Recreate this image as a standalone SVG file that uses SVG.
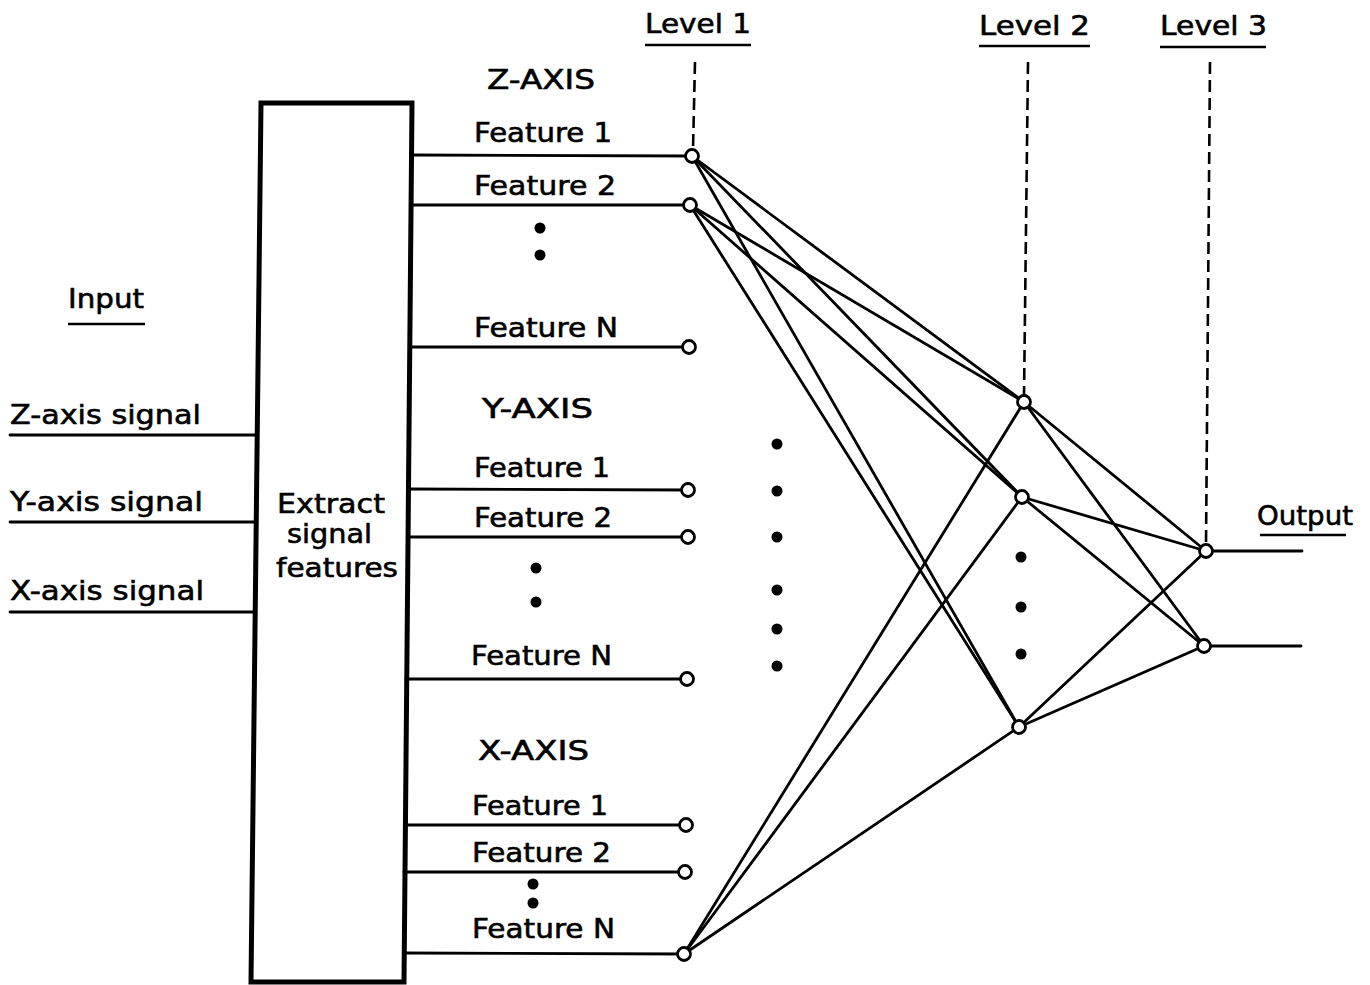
<svg xmlns="http://www.w3.org/2000/svg" width="1370" height="985" viewBox="0 0 1370 985">
<style>
text{font-family:"DejaVu Sans","Liberation Sans",sans-serif;font-size:27px;fill:#000;stroke:#000;stroke-width:0.6}
.ln{stroke:#000;stroke-width:2.8;fill:none;stroke-linecap:round}
.ul{stroke:#000;stroke-width:2.6;fill:none}
.dash{stroke:#000;stroke-width:2.6;fill:none;stroke-dasharray:12 6}
.nd{fill:#fff;stroke:#000;stroke-width:2.8}
.dot{fill:#000}
</style>
<rect width="1370" height="985" fill="#fff"/>

<g id="headers">
<text x="645" y="33" textLength="106" lengthAdjust="spacingAndGlyphs">Level 1</text>
<line class="ul" x1="645" y1="45" x2="751" y2="45"/>
<text x="979" y="35" textLength="111" lengthAdjust="spacingAndGlyphs">Level 2</text>
<line class="ul" x1="979" y1="46" x2="1090" y2="46"/>
<text x="1160" y="35" textLength="107" lengthAdjust="spacingAndGlyphs">Level 3</text>
<line class="ul" x1="1160" y1="47" x2="1266" y2="47"/>
<text x="68" y="308" textLength="76" lengthAdjust="spacingAndGlyphs">Input</text>
<line class="ul" x1="68" y1="324" x2="145" y2="324"/>
<text x="1257" y="525" textLength="96" lengthAdjust="spacingAndGlyphs">Output</text>
<line class="ul" x1="1260" y1="535" x2="1346" y2="535"/>
</g>

<g id="level-guides">
<line class="dash" x1="695" y1="62" x2="693" y2="150"/>
<line class="dash" x1="1028" y1="62" x2="1024" y2="396"/>
<line class="dash" x1="1210" y1="62" x2="1206" y2="545"/>
</g>

<g id="inputs">
<text x="10" y="424" textLength="191" lengthAdjust="spacingAndGlyphs">Z-axis signal</text>
<line class="ln" x1="10" y1="435" x2="256" y2="435"/>
<text x="10" y="511" textLength="193" lengthAdjust="spacingAndGlyphs">Y-axis signal</text>
<line class="ln" x1="10" y1="522" x2="255" y2="522"/>
<text x="10" y="600" textLength="194" lengthAdjust="spacingAndGlyphs">X-axis signal</text>
<line class="ln" x1="10" y1="612" x2="254" y2="612"/>
</g>

<g id="extract-box">
<path d="M261,103 L412,103 L404,982 L251,982 Z" fill="#fff" stroke="#000" stroke-width="5"/>
<text x="277" y="513" textLength="108" lengthAdjust="spacingAndGlyphs">Extract</text>
<text x="287" y="543" textLength="85" lengthAdjust="spacingAndGlyphs">signal</text>
<text x="276" y="577" textLength="122" lengthAdjust="spacingAndGlyphs">features</text>
</g>

<g id="feature-labels">
<text x="487" y="89" textLength="108" lengthAdjust="spacingAndGlyphs">Z-AXIS</text>
<text x="474" y="142" textLength="138" lengthAdjust="spacingAndGlyphs">Feature 1</text>
<text x="474" y="195" textLength="142" lengthAdjust="spacingAndGlyphs">Feature 2</text>
<text x="474" y="337" textLength="144" lengthAdjust="spacingAndGlyphs">Feature N</text>
<text x="482" y="418" textLength="111" lengthAdjust="spacingAndGlyphs">Y-AXIS</text>
<text x="474" y="477" textLength="136" lengthAdjust="spacingAndGlyphs">Feature 1</text>
<text x="474" y="527" textLength="138" lengthAdjust="spacingAndGlyphs">Feature 2</text>
<text x="471" y="665" textLength="141" lengthAdjust="spacingAndGlyphs">Feature N</text>
<text x="478" y="760" textLength="111" lengthAdjust="spacingAndGlyphs">X-AXIS</text>
<text x="472" y="815" textLength="136" lengthAdjust="spacingAndGlyphs">Feature 1</text>
<text x="472" y="862" textLength="139" lengthAdjust="spacingAndGlyphs">Feature 2</text>
<text x="472" y="938" textLength="143" lengthAdjust="spacingAndGlyphs">Feature N</text>
<circle class="dot" cx="540" cy="228" r="5.5"/>
<circle class="dot" cx="540" cy="255" r="5.5"/>
<circle class="dot" cx="536" cy="568" r="5.5"/>
<circle class="dot" cx="536" cy="602" r="5.5"/>
<circle class="dot" cx="533" cy="884" r="5.5"/>
<circle class="dot" cx="533" cy="903" r="5.5"/>
<circle class="dot" cx="777" cy="444" r="5.5"/>
<circle class="dot" cx="777" cy="491" r="5.5"/>
<circle class="dot" cx="777" cy="537" r="5.5"/>
<circle class="dot" cx="777" cy="590" r="5.5"/>
<circle class="dot" cx="777" cy="629" r="5.5"/>
<circle class="dot" cx="777" cy="666" r="5.5"/>
<circle class="dot" cx="1021" cy="557" r="5.5"/>
<circle class="dot" cx="1021" cy="607" r="5.5"/>
<circle class="dot" cx="1021" cy="654" r="5.5"/>
</g>

<g id="connectors">
<line class="ln" x1="412" y1="155" x2="692" y2="156"/>
<line class="ln" x1="412" y1="205" x2="690" y2="205"/>
<line class="ln" x1="410" y1="347" x2="689" y2="347"/>
<line class="ln" x1="409" y1="489" x2="688" y2="490"/>
<line class="ln" x1="408" y1="537" x2="688" y2="537"/>
<line class="ln" x1="406" y1="679" x2="687" y2="679"/>
<line class="ln" x1="405" y1="825" x2="686" y2="825"/>
<line class="ln" x1="404" y1="872" x2="685" y2="872"/>
<line class="ln" x1="404" y1="953" x2="684" y2="954"/>
<line class="ln" x1="692" y1="156" x2="1024" y2="402"/>
<line class="ln" x1="692" y1="156" x2="1022" y2="497"/>
<line class="ln" x1="692" y1="156" x2="1019" y2="727"/>
<line class="ln" x1="690" y1="205" x2="1024" y2="402"/>
<line class="ln" x1="690" y1="205" x2="1022" y2="497"/>
<line class="ln" x1="690" y1="205" x2="1019" y2="727"/>
<line class="ln" x1="684" y1="954" x2="1024" y2="402"/>
<line class="ln" x1="684" y1="954" x2="1022" y2="497"/>
<line class="ln" x1="684" y1="954" x2="1019" y2="727"/>
<line class="ln" x1="1024" y1="402" x2="1206" y2="551"/>
<line class="ln" x1="1024" y1="402" x2="1204" y2="646"/>
<line class="ln" x1="1022" y1="497" x2="1206" y2="551"/>
<line class="ln" x1="1022" y1="497" x2="1204" y2="646"/>
<line class="ln" x1="1019" y1="727" x2="1206" y2="551"/>
<line class="ln" x1="1019" y1="727" x2="1204" y2="646"/>
<line class="ln" x1="1206" y1="551" x2="1302" y2="551"/>
<line class="ln" x1="1204" y1="646" x2="1301" y2="646"/>
</g>

<g id="node-z1"><circle class="nd" cx="692" cy="156" r="6.5"/></g>
<g id="node-z2"><circle class="nd" cx="690" cy="205" r="6.5"/></g>
<g id="node-zn"><circle class="nd" cx="689" cy="347" r="6.5"/></g>
<g id="node-y1"><circle class="nd" cx="688" cy="490" r="6.5"/></g>
<g id="node-y2"><circle class="nd" cx="688" cy="537" r="6.5"/></g>
<g id="node-yn"><circle class="nd" cx="687" cy="679" r="6.5"/></g>
<g id="node-x1"><circle class="nd" cx="686" cy="825" r="6.5"/></g>
<g id="node-x2"><circle class="nd" cx="685" cy="872" r="6.5"/></g>
<g id="node-xn"><circle class="nd" cx="684" cy="954" r="6.5"/></g>
<g id="node-l2a"><circle class="nd" cx="1024" cy="402" r="6.5"/></g>
<g id="node-l2b"><circle class="nd" cx="1022" cy="497" r="6.5"/></g>
<g id="node-l2c"><circle class="nd" cx="1019" cy="727" r="6.5"/></g>
<g id="node-l3a"><circle class="nd" cx="1206" cy="551" r="6.5"/></g>
<g id="node-l3b"><circle class="nd" cx="1204" cy="646" r="6.5"/></g>
</svg>
